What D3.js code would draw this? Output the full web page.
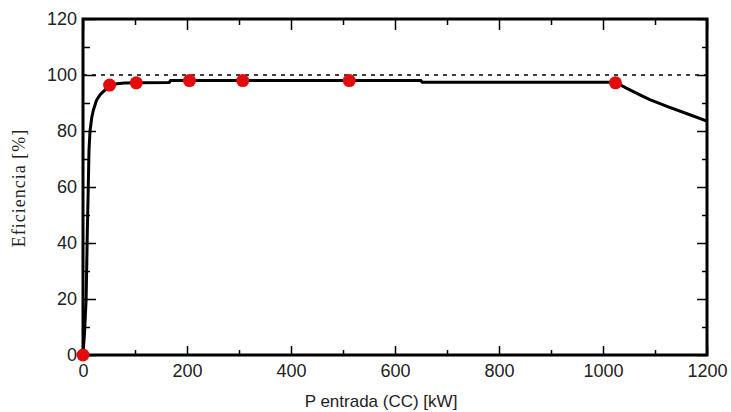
<!DOCTYPE html>
<html>
<head>
<meta charset="utf-8">
<script src="https://cdnjs.cloudflare.com/ajax/libs/d3/7.8.5/d3.min.js"></script>
<style>
  body { margin:0; background:#fff; }
  .tick text { font-family: Arial, "Liberation Sans", sans-serif; }
</style>
</head>
<body>
<svg></svg>
<script>
// efficiency curve (kW, %)
var curveX = [0, 1, 3, 4.5, 6, 7, 8.3, 9.6, 11.5, 13.5, 17, 20, 26, 33, 42, 51.2, 65, 80, 102.4, 166, 168, 204.8, 307.2, 512, 650, 652, 1024, 1045, 1070, 1090, 1123, 1167, 1200];
var curveY = [0, 3, 8, 14, 20, 30, 44, 55, 73, 80, 85, 87.5, 91, 93, 94.6, 96.4, 96.9, 97.1, 97.2, 97.3, 98.0, 98.0, 98.0, 98.0, 98.0, 97.4, 97.4, 95.3, 93, 91.2, 88.8, 85.8, 83.5];

// measured points
var pointX = [0, 51.2, 102.4, 204.8, 307.2, 512, 1024];
var pointY = [0, 96.4, 97.2, 98.0, 98.0, 98.0, 97.2];

var xTicks = [0, 200, 400, 600, 800, 1000, 1200];
var yTicks = [0, 20, 40, 60, 80, 100, 120];
var refLine = 100;

var drawGraph = function(){
  var screen = { width:731, height:412 };
  var margins = { top:19, bottom:57, left:83, right:24 };

  var graphWidth = screen.width - margins.left - margins.right;
  var graphHeight = screen.height - margins.top - margins.bottom;

  var xScale = d3.scaleLinear().domain([0, 1200]).range([0, graphWidth]);
  var yScale = d3.scaleLinear().domain([0, 120]).range([graphHeight, 0]);

  var svg = d3.select("svg")
              .attr("width", screen.width)
              .attr("height", screen.height);

  var plotLand = svg.append("g")
                    .attr("transform", "translate(" + margins.left + "," + margins.top + ")");

  var xMinor = d3.range(100, 1200, 200);
  var yMinor = d3.range(10, 120, 20);

  // minor ticks (no labels) on all four sides
  var minorX = function(axis, size){
    return axis(xScale).tickValues(xMinor).tickSize(size).tickFormat("");
  };
  var minorY = function(axis, size){
    return axis(yScale).tickValues(yMinor).tickSize(size).tickFormat("");
  };

  plotLand.append("g").attr("transform", "translate(0," + graphHeight + ")")
          .call(minorX(d3.axisBottom, -5));
  plotLand.append("g").call(minorX(d3.axisTop, -6));
  plotLand.append("g").call(minorY(d3.axisLeft, -7));
  plotLand.append("g").attr("transform", "translate(" + graphWidth + ",0)")
          .call(minorY(d3.axisRight, -5));

  // major ticks
  var xAxis = d3.axisBottom(xScale).tickValues(xTicks).tickFormat(d3.format("d"))
                .tickSizeInner(-9).tickSizeOuter(0).tickPadding(13);
  var yAxis = d3.axisLeft(yScale).tickValues(yTicks).tickFormat(d3.format("d"))
                .tickSizeInner(-13).tickSizeOuter(0).tickPadding(6);

  plotLand.append("g").attr("class", "xaxis")
          .attr("transform", "translate(0," + graphHeight + ")")
          .call(xAxis);
  plotLand.append("g").attr("class", "yaxis").call(yAxis);
  plotLand.append("g").call(d3.axisTop(xScale).tickValues(xTicks).tickSize(-11).tickFormat(""));
  plotLand.append("g").attr("transform", "translate(" + graphWidth + ",0)")
          .call(d3.axisRight(yScale).tickValues(yTicks).tickSize(-10).tickFormat(""));

  plotLand.selectAll(".domain").remove();
  plotLand.selectAll(".tick line").attr("stroke", "#000").attr("stroke-width", 1.5);
  plotLand.selectAll(".tick text").attr("font-size", 18).attr("fill", "#222");
  plotLand.select(".xaxis").selectAll(".tick text").attr("dy", "0.5em");

  // frame
  plotLand.append("rect")
          .attr("x", 0).attr("y", 0)
          .attr("width", graphWidth).attr("height", graphHeight)
          .attr("fill", "none").attr("stroke", "#000").attr("stroke-width", 3);

  // 100% reference line
  plotLand.append("line")
          .attr("x1", xScale(0)).attr("x2", xScale(1200))
          .attr("y1", yScale(refLine)).attr("y2", yScale(refLine))
          .attr("stroke", "#000").attr("stroke-width", 1.4)
          .attr("stroke-dasharray", "4,5");

  var line = d3.line()
               .x(function(d){ return xScale(d[0]); })
               .y(function(d){ return yScale(d[1]); });

  plotLand.append("path")
          .datum(curveX.map(function(x, i){ return [x, curveY[i]]; }))
          .attr("d", line)
          .attr("fill", "none")
          .attr("stroke", "#000")
          .attr("stroke-width", 3)
          .attr("stroke-linejoin", "round");

  plotLand.selectAll("circle")
          .data(pointX.map(function(x, i){ return [x, pointY[i]]; }))
          .enter()
          .append("circle")
          .attr("cx", function(d){ return xScale(d[0]); })
          .attr("cy", function(d){ return yScale(d[1]); })
          .attr("r", 6.5)
          .attr("fill", "#e30b0b");

  svg.append("text")
     .attr("x", 381)
     .attr("y", 407)
     .attr("text-anchor", "middle")
     .attr("font-family", "Arial, 'Liberation Sans', sans-serif")
     .attr("font-size", 17)
     .attr("fill", "#222")
     .text("P entrada (CC) [kW]");

  svg.append("text")
     .attr("transform", "translate(25,188) rotate(-90)")
     .attr("text-anchor", "middle")
     .attr("font-family", "'Liberation Serif', 'Times New Roman', serif")
     .attr("font-size", 18)
     .attr("letter-spacing", 1)
     .attr("fill", "#222")
     .text("Eficiencia [%]");
};

drawGraph();
</script>
</body>
</html>
